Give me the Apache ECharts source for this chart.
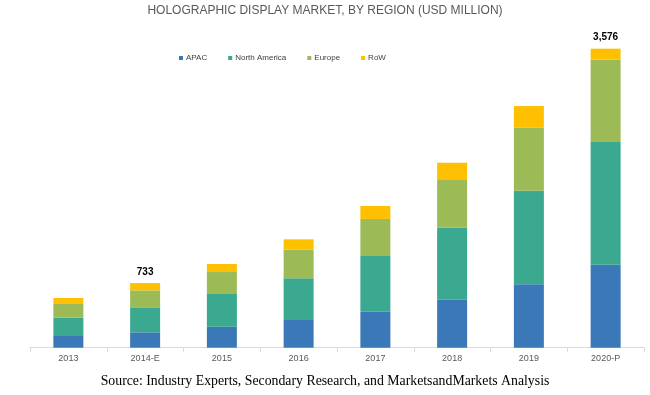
<!DOCTYPE html>
<html><head><meta charset="utf-8">
<script src="https://cdn.jsdelivr.net/npm/echarts@6/dist/echarts.min.js"></script>
<style>html,body{margin:0;padding:0;background:#fff}#c{width:650px;height:395px}</style>
</head><body><div id="c"></div>
<script>
const categories = ["2013","2014-E","2015","2016","2017","2018","2019","2020-P"];
const apac = [140,184,251,331,431,574,758,993];
const northAmerica = [219,299,391,499,666,861,1119,1467];
const europe = [164,203,263,342,443,570,753,984];
const row = [72,87,96,124,155,207,260,132];
const totalLabels = ["","733","","","","","","3,576"];
const seriesNames = ["APAC","North America","Europe","RoW"];
const colors = ["#3b78b8","#3aa98f","#9cbb56","#fec000"];

const chart = echarts.init(document.getElementById('c'), null, {renderer:'canvas'});
const dataSets = [apac, northAmerica, europe, row];
chart.setOption({
  animation:false,
  title:{text:"HOLOGRAPHIC DISPLAY MARKET, BY REGION (USD MILLION)", left:'center', top:0,
    textStyle:{fontFamily:'Liberation Sans', fontSize:12, fontWeight:'normal', color:'#595959'}},
  legend:{data:seriesNames, top:49, left:174, itemWidth:4, itemHeight:4, itemGap:21, icon:'rect',
    textStyle:{fontFamily:'Liberation Sans', fontSize:8, color:'#404040', padding:[0,0,0,-2]}},
  grid:{left:30, right:6, top:40, bottom:47.3},
  xAxis:{type:'category', data:categories,
    axisLine:{lineStyle:{color:'#d9d9d9'}},
    axisTick:{show:true, length:4, lineStyle:{color:'#d9d9d9'}},
    axisLabel:{fontFamily:'Liberation Sans', fontSize:9, color:'#595959', margin:6}},
  yAxis:{type:'value', min:0, max:3680, show:false, splitLine:{show:false}},
  series: dataSets.map((d,i)=>({
    name:seriesNames[i], type:'bar', stack:'total', barWidth:30, data:d,
    itemStyle:{color:colors[i]},
    label: i===3 ? {show:true, position:'top', distance:6, fontFamily:'Liberation Sans', fontSize:10, fontWeight:'bold', color:'#000',
      formatter:(p)=>totalLabels[p.dataIndex]} : {show:false}
  })),
  graphic:[{type:'text', left:'center', top:374,
    style:{text:"Source: Industry Experts, Secondary Research, and MarketsandMarkets Analysis",
      font:'13.8px "Liberation Serif"', fill:'#000'}}]
});
</script></body></html>
